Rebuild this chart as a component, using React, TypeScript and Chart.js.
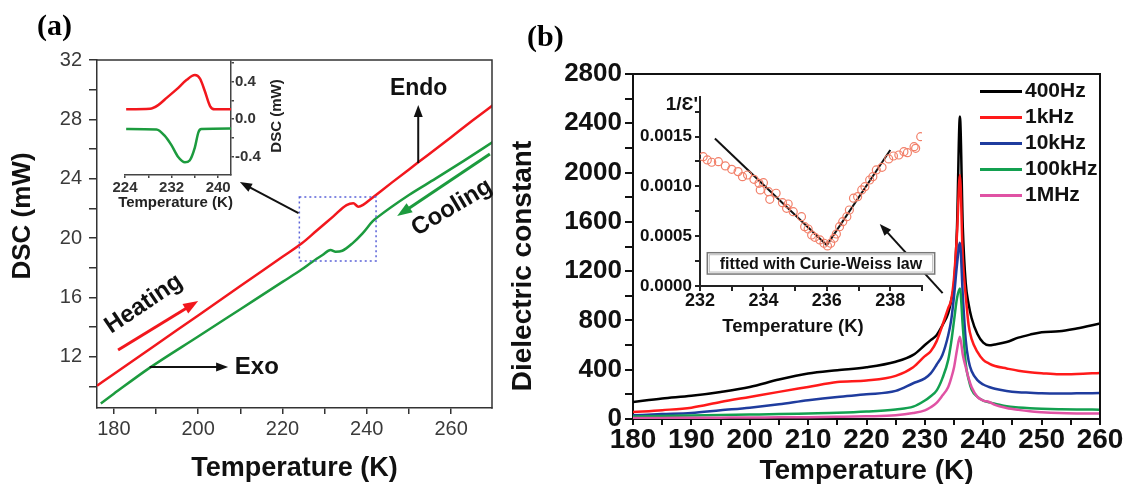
import React, { useEffect, useRef } from 'react';
import { Chart, registerables } from 'chart.js';

Chart.register(...registerables);

const FONT = '"Liberation Sans", Arial, Helvetica, sans-serif';

// ---------- Panel (a): DSC ----------
const heatT = [176, 180, 190, 200, 210, 220, 224.6, 228, 232, 235.2, 236.8, 238.0, 239.2, 240.8, 246, 252.2, 260, 265, 270];
const heatV = [10.04, 10.83, 12.81, 14.78, 16.76, 18.73, 19.64, 20.47, 21.44, 22.22, 22.34, 22.11, 22.25, 22.6, 23.75, 25.1, 26.8, 27.9, 28.97];
const coolT = [176.9, 180, 188.3, 200, 210, 220, 224.6, 227.1, 229.5, 231.4, 232.6, 234.2, 236.6, 239, 241.3, 242.5, 250, 256.3, 263, 270];
const coolV = [8.85, 9.5, 11.21, 13.36, 15.2, 17.04, 17.89, 18.4, 18.85, 19.19, 19.07, 19.14, 19.64, 20.31, 21.1, 21.39, 22.9, 24.0, 25.2, 26.49];

// inset (a)
const insHeatT = [224.2, 228.3, 229.7, 231.2, 232.9, 234.6, 236.0, 236.9, 237.7, 238.6, 239.4, 242.2];
const insHeatV = [0.105, 0.11, 0.15, 0.23, 0.32, 0.42, 0.47, 0.43, 0.30, 0.14, 0.105, 0.105];
const insCoolT = [224.2, 229.4, 230.8, 232.0, 233.1, 234.3, 235.1, 236.0, 236.6, 237.1, 242.2];
const insCoolV = [-0.105, -0.11, -0.176, -0.28, -0.40, -0.46, -0.44, -0.30, -0.14, -0.105, -0.1];

// ---------- Panel (b): dielectric constant ----------
const tempB = [180, 185, 190, 195, 200, 205, 210, 215, 220, 225, 228, 230, 231, 232, 233, 234, 234.5, 235, 235.5, 236, 236.5, 237, 237.5, 238, 239, 240, 241, 242, 244, 246, 248, 250, 253, 256, 260];
const eps400Hz = [138, 166, 188, 220, 260, 320, 369, 396, 420, 465, 520, 600, 640, 680, 760, 860, 960, 1100, 1550, 2455, 1550, 1100, 930, 820, 690, 620, 598, 605, 625, 660, 685, 705, 712, 735, 775];
const eps1kHz = [57, 72, 92, 138, 179, 220, 260, 300, 312, 350, 420, 510, 550, 630, 760, 900, 965, 1150, 1500, 1980, 1300, 1000, 760, 650, 545, 480, 450, 430, 410, 392, 380, 372, 363, 366, 374];
const eps10kHz = [30, 40, 49, 71, 92, 119, 152, 179, 200, 228, 290, 330, 370, 440, 520, 680, 800, 1000, 1250, 1430, 1000, 640, 470, 390, 315, 280, 260, 245, 228, 218, 213, 208, 206, 208, 211];
const eps100kHz = [20, 24, 28, 32, 36, 40, 45, 50, 60, 78, 100, 150, 185, 230, 330, 480, 620, 800, 980, 1060, 750, 450, 320, 240, 180, 150, 135, 125, 103, 94, 88, 84, 80, 77, 76];
const eps1MHz = [8, 9, 10, 11, 12, 14, 15, 18, 22, 30, 48, 70, 95, 130, 190, 260, 330, 420, 560, 667, 520, 420, 330, 260, 180, 150, 138, 115, 90, 74, 62, 55, 48, 45, 44];
const freqLabels = ['400Hz', '1kHz', '10kHz', '100kHz', '1MHz'];
const freqColors = ['#000000', '#ff1a1a', '#1f3c9e', '#13a050', '#e052a4'];

// inset (b): 1/eps' with Curie-Weiss fits
const invT = [232.1, 232.23, 232.37, 232.58, 232.8, 233.0, 233.2, 233.34, 233.5, 233.7, 233.86, 233.9, 234.0, 234.16, 234.2, 234.4, 234.6, 234.73, 234.78, 234.94, 235.2, 235.3, 235.41, 235.52, 235.62, 235.78, 235.91, 236.02, 236.12, 236.23, 236.3, 236.4, 236.5, 236.63, 236.71, 236.84, 236.97, 237.1, 237.2, 237.35, 237.45, 237.56, 237.74, 237.95, 238.1, 238.27, 238.43, 238.54, 238.75, 238.8, 238.96];
const invEps = [0.001298, 0.001265, 0.001242, 0.001248, 0.001205, 0.001171, 0.001148, 0.001097, 0.001114, 0.001071, 0.001031, 0.000964, 0.001037, 0.000947, 0.00087, 0.000931, 0.000836, 0.00078, 0.000823, 0.000746, 0.000696, 0.000595, 0.000572, 0.000512, 0.000489, 0.000462, 0.000429, 0.000402, 0.000429, 0.000479, 0.000522, 0.000595, 0.000646, 0.000696, 0.000763, 0.000881, 0.000897, 0.000964, 0.000997, 0.001064, 0.001097, 0.001165, 0.001191, 0.001275, 0.001305, 0.001315, 0.001348, 0.001338, 0.001398, 0.001382, 0.001499];
const fitLeftT = [232.47, 236.0];
const fitLeftV = [0.00148, 0.00041];
const fitRightT = [236.0, 238.0];
const fitRightV = [0.00041, 0.001365];

const xy = (xs: number[], ys: number[]) => xs.map((x, i) => ({ x, y: ys[i] }));

function arrow(ctx: any, x1: number, y1: number, x2: number, y2: number, color: string, lw: number, hl: number, hw: number) {
  const a = Math.atan2(y2 - y1, x2 - x1);
  const c = Math.cos(a), s = Math.sin(a);
  ctx.save();
  ctx.strokeStyle = color;
  ctx.fillStyle = color;
  ctx.lineWidth = lw;
  ctx.beginPath();
  ctx.moveTo(x1, y1);
  ctx.lineTo(x2 - c * hl * 0.8, y2 - s * hl * 0.8);
  ctx.stroke();
  ctx.beginPath();
  ctx.moveTo(x2, y2);
  ctx.lineTo(x2 - hl * c + (hw / 2) * s, y2 - hl * s - (hw / 2) * c);
  ctx.lineTo(x2 - hl * c - (hw / 2) * s, y2 - hl * s + (hw / 2) * c);
  ctx.closePath();
  ctx.fill();
  ctx.restore();
}

function text(ctx: any, t: string, x: number, y: number, font: string, color: string, angle = 0, align = 'center') {
  ctx.save();
  ctx.translate(x, y);
  ctx.rotate((angle * Math.PI) / 180);
  ctx.font = font;
  ctx.fillStyle = color;
  ctx.textAlign = align;
  ctx.textBaseline = 'middle';
  ctx.fillText(t, 0, 0);
  ctx.restore();
}

function frameTopRight(chart: any, color: string, lw: number) {
  const { left, right, top, bottom } = chart.chartArea;
  const ctx = chart.ctx;
  ctx.save();
  ctx.strokeStyle = color;
  ctx.lineWidth = lw;
  ctx.beginPath();
  ctx.moveTo(left - lw / 2, top);
  ctx.lineTo(right, top);
  ctx.lineTo(right, bottom + lw / 2);
  ctx.stroke();
  ctx.restore();
}

const near = (v: number, step: number) => Math.abs(v / step - Math.round(v / step)) < 1e-6;

function makeAxis(o: any) {
  return {
    type: 'linear',
    position: o.position,
    min: o.min,
    max: o.max,
    afterFit: (s: any) => {
      if (o.width !== undefined) s.width = o.width;
      if (o.height !== undefined) s.height = o.height;
    },
    ticks: {
      stepSize: o.step,
      autoSkip: false,
      includeBounds: false,
      maxRotation: 0,
      minRotation: 0,
      padding: o.pad,
      color: o.tickColor,
      font: { family: FONT, size: o.size, weight: o.weight, lineHeight: 1 },
      callback: o.cb,
    },
    grid: { display: true, drawOnChartArea: false, drawTicks: true, tickLength: o.tl, color: o.lineColor, lineWidth: o.lw },
    border: { display: true, color: o.lineColor, width: o.lw },
  };
}

// annotation positions for panel (a) in data units
const zoomBox = { t0: 224.0, t1: 242.2, v0: 18.45, v1: 22.76 };

function configA(): any {
  return {
    type: 'line',
    data: {
      datasets: [
        { label: 'Heating', data: xy(heatT, heatV), borderColor: '#f2171d', borderWidth: 2.5, pointRadius: 0, cubicInterpolationMode: 'monotone' },
        { label: 'Cooling', data: xy(coolT, coolV), borderColor: '#1c9b3e', borderWidth: 2.5, pointRadius: 0, cubicInterpolationMode: 'monotone' },
      ],
    },
    options: {
      animation: false,
      responsive: false,
      layout: { padding: { left: 0, top: 60, right: 8, bottom: 0 } },
      plugins: { legend: { display: false }, tooltip: { enabled: false } },
      scales: {
        x: makeAxis({ position: 'bottom', min: 176, max: 269.7, height: 76, step: 10, pad: 5, tickColor: '#3a3a3a', size: 20, weight: 'normal', tl: 6, lineColor: '#333', lw: 1.5,
          cb: (v: number) => (near(v, 20) ? String(Math.round(v)) : '') }),
        y: makeAxis({ position: 'left', min: 8.54, max: 32, width: 97, step: 2, pad: 7, tickColor: '#3a3a3a', size: 20, weight: 'normal', tl: 8, lineColor: '#333', lw: 1.5,
          cb: (v: number) => (near(v, 4) ? String(Math.round(v)) : '') }),
      },
    },
    plugins: [
      {
        id: 'decorA',
        afterDraw(chart: any) {
          const ctx = chart.ctx;
          const sx = chart.scales.x, sy = chart.scales.y;
          const P = (t: number, v: number) => [sx.getPixelForValue(t), sy.getPixelForValue(v)];
          frameTopRight(chart, '#333', 1.5);
          // axis titles
          text(ctx, 'DSC (mW)', 23, 216, `bold 26px ${FONT}`, '#111', -90);
          text(ctx, 'Temperature (K)', (chart.chartArea.left + chart.chartArea.right) / 2, 469, `bold 27px ${FONT}`, '#111');
          // dotted zoom box
          const [bx0, by1] = P(zoomBox.t0, zoomBox.v1);
          const [bx1, by0] = P(zoomBox.t1, zoomBox.v0);
          ctx.save();
          ctx.strokeStyle = '#5a62d8';
          ctx.lineWidth = 1.5;
          ctx.setLineDash([2, 3]);
          ctx.strokeRect(bx0, by1, bx1 - bx0, by0 - by1);
          ctx.restore();
          // arrow box -> inset
          let a = P(223.8, 21.68), b = P(209.9, 23.77);
          arrow(ctx, a[0], a[1], b[0], b[1], '#111', 2, 12, 9);
          // Endo
          a = P(252.2, 25.05); b = P(252.2, 28.97);
          arrow(ctx, a[0], a[1], b[0], b[1], '#111', 2, 12, 9);
          const e = P(252.3, 30.1);
          text(ctx, 'Endo', e[0], e[1], `bold 23px ${FONT}`, '#111');
          // Exo
          a = P(188.5, 11.3); b = P(207.1, 11.3);
          arrow(ctx, a[0], a[1], b[0], b[1], '#111', 2, 12, 9);
          const x = P(208.7, 11.3);
          text(ctx, 'Exo', x[0], x[1], `bold 24px ${FONT}`, '#111', 0, 'left');
          // Heating
          a = P(181, 12.45); b = P(200, 15.76);
          arrow(ctx, a[0], a[1], b[0], b[1], '#f2171d', 3, 15, 11);
          const h = P(187.1, 15.55);
          text(ctx, 'Heating', h[0], h[1], `bold 24px ${FONT}`, '#111', -34);
          // Cooling
          a = P(269.2, 25.66); b = P(247.2, 21.48);
          arrow(ctx, a[0], a[1], b[0], b[1], '#1c9b3e', 3, 15, 11);
          const c = P(260.2, 22.05);
          text(ctx, 'Cooling', c[0], c[1], `bold 24px ${FONT}`, '#111', -31);
        },
      },
    ],
  };
}

function configInsetA(): any {
  return {
    type: 'line',
    data: {
      datasets: [
        { data: xy(insHeatT, insHeatV), borderColor: '#f2171d', borderWidth: 2.5, pointRadius: 0, cubicInterpolationMode: 'monotone' },
        { data: xy(insCoolT, insCoolV), borderColor: '#1c9b3e', borderWidth: 2.5, pointRadius: 0, cubicInterpolationMode: 'monotone' },
      ],
    },
    options: {
      animation: false,
      responsive: false,
      layout: { padding: { left: 25, top: 11, right: 0, bottom: 0 } },
      plugins: { legend: { display: false }, tooltip: { enabled: false } },
      scales: {
        x: makeAxis({ position: 'bottom', min: 224, max: 242.2, height: 45, step: 4, pad: 2, tickColor: '#333', size: 15, weight: 'bold', tl: 3, lineColor: '#444', lw: 1.5,
          cb: (v: number) => (near(v - 224, 8) ? String(Math.round(v)) : '') }),
        y: makeAxis({ position: 'right', min: -0.595, max: 0.62, width: 69, step: 0.2, pad: 1, tickColor: '#333', size: 15, weight: 'bold', tl: 3, lineColor: '#444', lw: 1.5,
          cb: (v: number) => (near(v, 0.4) ? (Math.abs(v) < 1e-9 ? '0.0' : v.toFixed(1)) : '') }),
      },
    },
    plugins: [
      {
        id: 'decorInA',
        afterDraw(chart: any) {
          const ctx = chart.ctx;
          text(ctx, 'Temperature (K)', 75.5, 153, `bold 15px ${FONT}`, '#222');
          text(ctx, 'DSC (mW)', 177, 66, `bold 15px ${FONT}`, '#222', -90);
        },
      },
    ],
  };
}

function configB(): any {
  const series = [eps400Hz, eps1kHz, eps10kHz, eps100kHz, eps1MHz];
  return {
    type: 'line',
    data: {
      datasets: series.map((s, i) => ({
        label: freqLabels[i],
        data: xy(tempB, s),
        borderColor: freqColors[i],
        borderWidth: 2.5,
        pointRadius: 0,
        order: 5 - i,
        cubicInterpolationMode: 'monotone',
      })),
    },
    options: {
      animation: false,
      responsive: false,
      layout: { padding: { left: 0, top: 74, right: 25, bottom: 0 } },
      plugins: { legend: { display: false }, tooltip: { enabled: false } },
      scales: {
        x: makeAxis({ position: 'bottom', min: 180, max: 260, height: 65, step: 5, pad: 1, tickColor: '#111', size: 28, weight: 'bold', tl: 6, lineColor: '#111', lw: 2,
          cb: (v: number) => (near(v, 10) ? String(Math.round(v)) : '') }),
        y: makeAxis({ position: 'left', min: 0, max: 2800, width: 133, step: 200, pad: 3, tickColor: '#111', size: 26, weight: 'bold', tl: 8, lineColor: '#111', lw: 2,
          cb: (v: number) => (near(v, 400) ? String(Math.round(v)) : '') }),
      },
    },
    plugins: [
      {
        id: 'decorB',
        afterDraw(chart: any) {
          const ctx = chart.ctx;
          const sx = chart.scales.x, sy = chart.scales.y;
          const ca = chart.chartArea;
          frameTopRight(chart, '#111', 2);
          text(ctx, 'Dielectric constant', 23, 266, `bold 28px ${FONT}`, '#111', -90);
          text(ctx, 'Temperature (K)', (ca.left + ca.right) / 2, 471, `bold 28px ${FONT}`, '#111');
          // legend
          chart.data.datasets.forEach((d: any, i: number) => {
            const y = ca.top + 17.5 + i * 26;
            ctx.save();
            ctx.strokeStyle = d.borderColor;
            ctx.lineWidth = 3;
            ctx.beginPath();
            ctx.moveTo(ca.right - 120, y);
            ctx.lineTo(ca.right - 78, y);
            ctx.stroke();
            ctx.restore();
            text(ctx, d.label, ca.right - 75, y, `bold 21px ${FONT}`, '#111', 0, 'left');
          });
          // arrow pointing to inset
          arrow(ctx, sx.getPixelForValue(233.04), sy.getPixelForValue(1022), sx.getPixelForValue(222.27), sy.getPixelForValue(1583), '#111', 2, 12, 9);
        },
      },
    ],
  };
}

function configInsetB(): any {
  return {
    type: 'line',
    data: {
      datasets: [
        { data: xy(invT, invEps), showLine: false, pointRadius: 4, pointStyle: 'circle', pointBorderColor: '#f2806a', pointBackgroundColor: 'rgba(0,0,0,0)', pointBorderWidth: 1.2 },
        { data: xy(fitLeftT, fitLeftV), borderColor: '#111', borderWidth: 2, pointRadius: 0 },
        { data: xy(fitRightT, fitRightV), borderColor: '#111', borderWidth: 2, pointRadius: 0 },
      ],
    },
    options: {
      animation: false,
      responsive: false,
      layout: { padding: { left: 0, top: 16.7, right: 18, bottom: 0 } },
      plugins: { legend: { display: false }, tooltip: { enabled: false } },
      scales: {
        x: makeAxis({ position: 'bottom', min: 232, max: 239, height: 54, step: 1, pad: 1, tickColor: '#111', size: 18, weight: 'bold', tl: 5, lineColor: '#222', lw: 2,
          cb: (v: number) => (near(v, 2) ? String(Math.round(v)) : '') }),
        y: makeAxis({ position: 'left', min: 0, max: 0.0019, width: 80, step: 0.00025, pad: 3, tickColor: '#111', size: 17, weight: 'bold', tl: 5, lineColor: '#222', lw: 2,
          cb: (v: number) => (near(v, 0.0005) ? v.toFixed(4) : '') }),
      },
    },
    plugins: [
      {
        id: 'decorInB',
        afterDraw(chart: any) {
          const ctx = chart.ctx;
          const sx = chart.scales.x, sy = chart.scales.y;
          text(ctx, "1/\u0190'", 78, 25, `bold 19px ${FONT}`, '#111', 0, 'right');
          text(ctx, 'Temperature (K)', 173, 247, `bold 18.5px ${FONT}`, '#111');
          const x0 = sx.getPixelForValue(232.23), x1 = sx.getPixelForValue(239.4);
          const y0 = sy.getPixelForValue(0.000334), y1 = sy.getPixelForValue(0.00012);
          ctx.save();
          ctx.fillStyle = '#fff';
          ctx.fillRect(x0, y0, x1 - x0, y1 - y0);
          ctx.strokeStyle = '#777';
          ctx.lineWidth = 1.5;
          ctx.strokeRect(x0, y0, x1 - x0, y1 - y0);
          ctx.strokeStyle = '#bbb';
          ctx.lineWidth = 1;
          ctx.strokeRect(x0 + 2, y0 + 2, x1 - x0 - 4, y1 - y0 - 4);
          ctx.restore();
          text(ctx, 'fitted with Curie-Weiss law', (x0 + x1) / 2, (y0 + y1) / 2 + 1, `bold 16px ${FONT}`, '#111');
        },
      },
    ],
  };
}

export default function App() {
  const refA = useRef<HTMLCanvasElement>(null);
  const refInA = useRef<HTMLCanvasElement>(null);
  const refB = useRef<HTMLCanvasElement>(null);
  const refInB = useRef<HTMLCanvasElement>(null);

  useEffect(() => {
    const charts = [
      new Chart(refA.current as any, configA()),
      new Chart(refInA.current as any, configInsetA()),
      new Chart(refB.current as any, configB()),
      new Chart(refInB.current as any, configInsetB()),
    ];
    return () => charts.forEach((c) => c.destroy());
  }, []);

  const abs = (left: number, top: number): any => ({ position: 'absolute', left, top });
  const panelLabel: any = { position: 'absolute', font: 'bold 30px "Liberation Serif", "Times New Roman", serif', lineHeight: '30px', color: '#000' };

  return (
    <div style={{ position: 'fixed', left: 0, top: 0, width: 1125, height: 484, background: '#fff', overflow: 'hidden' }}>
      <canvas ref={refA} width={500} height={484} style={abs(0, 0)} />
      <canvas ref={refInA} width={200} height={170} style={abs(100, 50)} />
      <canvas ref={refB} width={625} height={484} style={abs(500, 0)} />
      <canvas ref={refInB} width={320} height={260} style={abs(620, 80)} />
      <div style={{ ...panelLabel, left: 37, top: 10 }}>(a)</div>
      <div style={{ ...panelLabel, left: 527, top: 21 }}>(b)</div>
    </div>
  );
}
